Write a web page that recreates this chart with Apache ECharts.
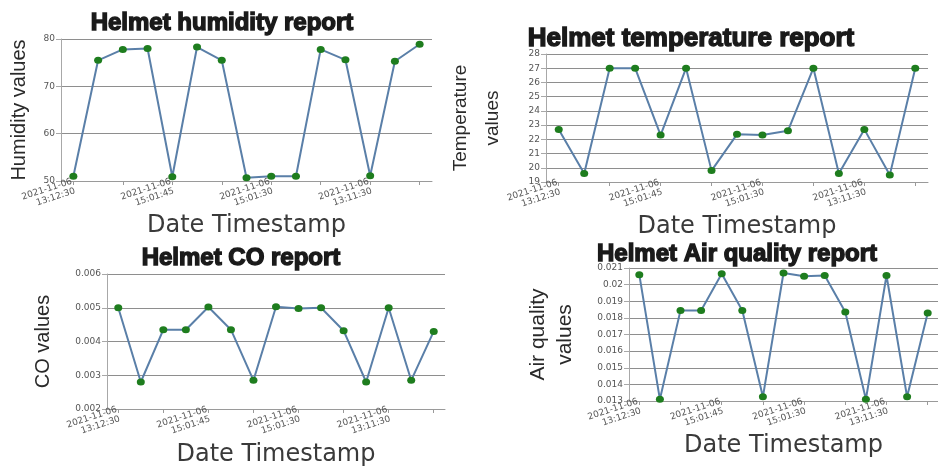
<!DOCTYPE html>
<html>
<head>
<meta charset="utf-8">
<script src="https://cdn.jsdelivr.net/npm/echarts@6/dist/echarts.min.js"></script>
<style>
html,body{margin:0;padding:0;background:#fff;}
#chart{width:938px;height:468px;}
</style>
</head>
<body>
<div id="chart"></div>
<script>
// Tick labels shown on every x axis (every 4th category)
var timeLabels = ['2021-11-06\n13:12:30', '2021-11-06\n15:01:45', '2021-11-06\n15:01:30', '2021-11-06\n13:11:30'];

// Series values (15 readings each)
var humidityValues = [51, 75.5, 77.8, 78, 50.9, 78.3, 75.5, 50.7, 51, 51, 77.8, 75.6, 51.1, 75.3, 78.9];
var temperatureValues = [22.7, 19.6, 27, 27, 22.3, 27, 19.8, 22.35, 22.3, 22.6, 27, 19.6, 22.7, 19.5, 27];
var coValues = [0.005, 0.0028, 0.00435, 0.00435, 0.00502, 0.00435, 0.00285, 0.00503, 0.00498, 0.005, 0.00432, 0.0028, 0.005, 0.00285, 0.0043];
var airValues = [0.0206, 0.0131, 0.01845, 0.01845, 0.02065, 0.01845, 0.01325, 0.0207, 0.0205, 0.02055, 0.01835, 0.0131, 0.02055, 0.01325, 0.0183];

// Chart titles and axis names
var titles = ['Helmet humidity report', 'Helmet temperature report', 'Helmet CO report', 'Helmet Air quality report'];
var yNames = ['Humidity values', 'Temperature\nvalues', 'CO values', 'Air quality\nvalues'];
var xName = 'Date Timestamp';

var categories = humidityValues.map(function (v, i) {
  return i % 4 === 0 ? timeLabels[i / 4] : '';
});

var chart = echarts.init(document.getElementById('chart'));

function titleFont(size) {
  return {
    fontFamily: 'Liberation Sans, Arial, sans-serif',
    fontWeight: 'bold',
    fontSize: size,
    lineHeight: size,
    color: '#1a1a1a',
    textBorderColor: '#1a1a1a',
    textBorderWidth: 1.4
  };
}

function mkTitle(text, cx, top, size) {
  return { text: text, left: cx, top: top, textAlign: 'center', padding: 0, textStyle: titleFont(size) };
}

function mkX(idx, gap) {
  return {
    type: 'category', gridIndex: idx, data: categories, boundaryGap: true,
    name: xName, nameLocation: 'middle', nameGap: gap,
    nameTextStyle: { fontFamily: 'DejaVu Sans, sans-serif', fontSize: 24, color: '#3a3a3a' },
    axisLine: { lineStyle: { color: '#9a9a9a', width: 1 } },
    axisTick: { show: true, alignWithLabel: true, interval: 1, length: 4, lineStyle: { color: '#9a9a9a' } },
    axisLabel: { interval: 3, rotate: 18, margin: 5, fontSize: 9, lineHeight: 10, color: '#555', fontFamily: 'DejaVu Sans, sans-serif' },
    splitLine: { show: false }
  };
}

function mkY(idx, min, max, interval, name, gap, nameSize, lh) {
  return {
    type: 'value', gridIndex: idx, min: min, max: max, interval: interval,
    name: name, nameLocation: 'middle', nameGap: gap, nameRotate: 90,
    nameTextStyle: { fontFamily: 'Liberation Sans, Arial, sans-serif', fontSize: nameSize, color: '#2a2a2a', lineHeight: lh },
    axisLine: { show: true, lineStyle: { color: '#a8a8a8', width: 1 } },
    axisTick: { show: true, length: 5, lineStyle: { color: '#a8a8a8' } },
    axisLabel: { fontSize: 9, color: '#555', margin: 6, fontFamily: 'DejaVu Sans, sans-serif' },
    splitLine: { show: true, lineStyle: { color: '#8e8e8e', width: 1 } }
  };
}

function mkSeries(idx, data) {
  return {
    type: 'line', xAxisIndex: idx, yAxisIndex: idx, data: data,
    symbol: 'circle', symbolSize: [8, 7], showSymbol: true,
    lineStyle: { color: '#5a7fa8', width: 2 },
    itemStyle: { color: '#1e7d1e', borderWidth: 0 },
    animation: false, silent: true
  };
}

chart.setOption({
  backgroundColor: '#ffffff',
  animation: false,
  title: [
    mkTitle(titles[0], 222, 11, 24),
    mkTitle(titles[1], 691, 26, 26),
    mkTitle(titles[2], 241, 246, 24),
    mkTitle(titles[3], 737, 242, 24)
  ],
  grid: [
    { left: 61, top: 39, width: 371, height: 142 },
    { left: 546, top: 54, width: 382, height: 128 },
    { left: 107, top: 274, width: 338, height: 140 },
    { left: 629, top: 268, width: 320, height: 133 }
  ],
  xAxis: [mkX(0, 31), mkX(1, 28), mkX(2, 34), mkX(3, 32)],
  yAxis: [
    mkY(0, 50, 80, 10, yNames[0], 28, 20, 28),
    mkY(1, 19, 28, 1, yNames[1], 37, 19, 32),
    mkY(2, 0.002, 0.006, 0.001, yNames[2], 50, 20, 28),
    mkY(3, 0.013, 0.021, 0.001, yNames[3], 50, 21, 27)
  ],
  series: [
    mkSeries(0, humidityValues),
    mkSeries(1, temperatureValues),
    mkSeries(2, coValues),
    mkSeries(3, airValues)
  ]
});
</script>
</body>
</html>
